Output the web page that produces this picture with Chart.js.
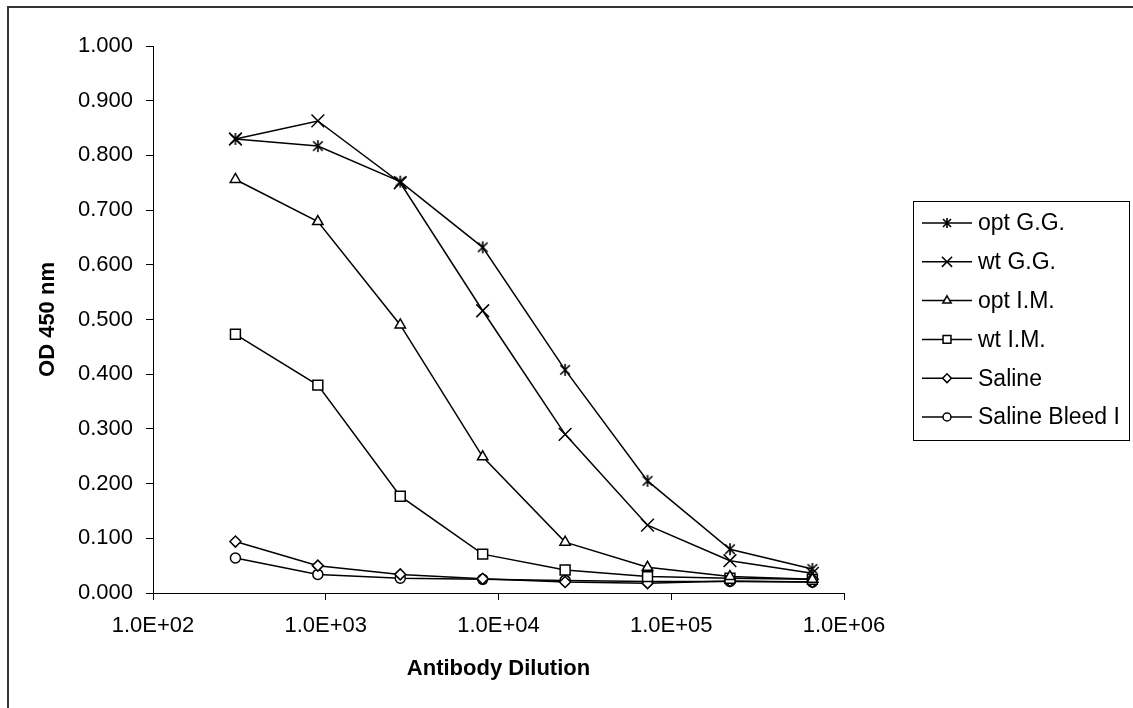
<!DOCTYPE html>
<html>
<head>
<meta charset="utf-8">
<script src="https://cdn.jsdelivr.net/npm/chart.js@4/dist/chart.umd.min.js"></script>
<style>
  html, body { margin: 0; padding: 0; background: #fff; }
  #wrap { width: 1133px; height: 708px; position: relative; }
</style>
</head>
<body>
<div id="wrap"><canvas id="elisa"></canvas></div>
<script>
const dilutions = [300, 900, 2700, 8100, 24300, 72900, 218700, 656100];
const seriesNames = ["opt G.G.", "wt G.G.", "opt I.M.", "wt I.M.", "Saline", "Saline Bleed I"];
const optGG = [0.830, 0.817, 0.752, 0.632, 0.408, 0.205, 0.080, 0.044];
const wtGG = [0.830, 0.863, 0.750, 0.516, 0.290, 0.124, 0.059, 0.036];
const optIM = [0.756, 0.679, 0.490, 0.249, 0.093, 0.047, 0.030, 0.025];
const wtIM = [0.473, 0.380, 0.177, 0.071, 0.042, 0.030, 0.027, 0.025];
const saline = [0.094, 0.050, 0.034, 0.026, 0.020, 0.018, 0.022, 0.020];
const salineBleed = [0.064, 0.034, 0.027, 0.025, 0.023, 0.021, 0.021, 0.020];
const xTicks = [1e2, 1e3, 1e4, 1e5, 1e6];

const FONT = "'Liberation Sans', Arial, sans-serif";

// excel style asterisk: vertical bar plus an X
function makeAsterisk(size) {
  const c = document.createElement("canvas");
  c.width = size; c.height = size;
  const g = c.getContext("2d");
  const m = size / 2, a = size / 2 - 1;
  g.strokeStyle = "#000";
  g.lineWidth = 1.6;
  g.beginPath();
  g.moveTo(m, m - a); g.lineTo(m, m + a);
  g.moveTo(m - a * 0.8, m - a * 0.8); g.lineTo(m + a * 0.8, m + a * 0.8);
  g.moveTo(m + a * 0.8, m - a * 0.8); g.lineTo(m - a * 0.8, m + a * 0.8);
  g.stroke();
  return c;
}

const asterisk = makeAsterisk(14);
const asteriskSmall = makeAsterisk(12);

const styles = [
  { pointStyle: asterisk, legendStyle: asteriskSmall, radius: 6 },
  { pointStyle: "crossRot", radius: 9 },
  { pointStyle: "triangle", radius: 6 },
  { pointStyle: "rect", radius: 7 },
  { pointStyle: "rectRot", radius: 5.5 },
  { pointStyle: "circle", radius: 5 }
];
const values = [optGG, wtGG, optIM, wtIM, saline, salineBleed];

function toPoints(arr) {
  return dilutions.map((d, i) => ({ x: d, y: arr[i] }));
}

function sciLabel(v) {
  const parts = v.toExponential(1).split("e");
  const sign = parts[1][0] === "-" ? "-" : "+";
  const exp = parts[1].replace(/[+-]/, "").padStart(2, "0");
  return parts[0] + "E" + sign + exp;
}

const datasets = seriesNames.map((name, i) => ({
  label: name,
  data: toPoints(values[i]),
  borderColor: "#000",
  borderWidth: 1.5,
  tension: 0,
  pointStyle: styles[i].pointStyle,
  pointRadius: styles[i].radius,
  pointBorderWidth: 1.5,
  pointBorderColor: "#000",
  pointBackgroundColor: "#fff"
}));

const frameAndLegend = {
  id: "frameAndLegend",
  afterDraw(chart) {
    const ctx = chart.ctx;
    ctx.save();
    // outer frame, only top and left visible
    ctx.strokeStyle = "#333";
    ctx.lineWidth = 2;
    ctx.beginPath();
    ctx.moveTo(8, 708);
    ctx.lineTo(8, 7);
    ctx.lineTo(1133, 7);
    ctx.stroke();

    // legend box
    const bx = 913, by = 201, bw = 216, bh = 239;
    ctx.strokeStyle = "#000";
    ctx.lineWidth = 1;
    ctx.strokeRect(bx + 0.5, by + 0.5, bw, bh);
    ctx.beginPath();
    ctx.rect(bx, by, bw, bh);
    ctx.clip();

    ctx.font = "23px " + FONT;
    ctx.textBaseline = "middle";
    ctx.textAlign = "left";
    chart.data.datasets.forEach((ds, i) => {
      const y = 223 + i * 38.8;
      ctx.strokeStyle = "#000";
      ctx.lineWidth = 1.5;
      ctx.beginPath();
      ctx.moveTo(922, y);
      ctx.lineTo(972, y);
      ctx.stroke();
      ctx.fillStyle = "#fff";
      const st = styles[i];
      Chart.helpers.drawPoint(ctx, {
        pointStyle: st.legendStyle || st.pointStyle,
        radius: st.radius * 0.8,
        rotation: 0,
        borderWidth: 1.5
      }, 947, y);
      ctx.fillStyle = "#000";
      ctx.fillText(ds.label, 978, y + 1);
    });
    ctx.restore();
  }
};

window.addEventListener("DOMContentLoaded", () => {
  const ctx = document.getElementById("elisa");
  new Chart(ctx, {
    type: "line",
    data: { datasets: datasets },
    options: {
      responsive: true,
      maintainAspectRatio: false,
      animation: false,
      events: [],
      layout: { padding: { top: 46, right: 289, left: 0, bottom: 0 } },
      plugins: {
        legend: { display: false },
        tooltip: { enabled: false }
      },
      scales: {
        x: {
          type: "logarithmic",
          min: 100,
          max: 1e6,
          afterBuildTicks: (scale) => {
            scale.ticks = xTicks.map(v => ({ value: v, major: true }));
          },
          afterFit: (scale) => { scale.height = 115; },
          border: { display: true, color: "#000", width: 1 },
          grid: { display: true, drawOnChartArea: false, drawTicks: true, tickLength: 7, color: "#000" },
          ticks: {
            color: "#000",
            padding: 13,
            maxRotation: 0,
            autoSkip: false,
            font: { family: FONT, size: 22 },
            callback: (v) => sciLabel(v)
          },
          title: {
            display: true,
            text: "Antibody Dilution",
            color: "#000",
            font: { family: FONT, size: 22, weight: "bold" },
            padding: { top: 0, bottom: 26 }
          }
        },
        y: {
          min: 0,
          max: 1,
          afterFit: (scale) => { scale.width = 153; },
          border: { display: true, color: "#000", width: 1 },
          grid: { display: true, drawOnChartArea: false, drawTicks: true, tickLength: 7, color: "#000" },
          ticks: {
            stepSize: 0.1,
            color: "#000",
            padding: 13,
            font: { family: FONT, size: 22 },
            callback: (v) => v.toFixed(3)
          },
          title: {
            display: true,
            text: "OD 450 nm",
            color: "#000",
            font: { family: FONT, size: 22, weight: "bold" },
            padding: { top: 35, bottom: 0 }
          }
        }
      }
    },
    plugins: [frameAndLegend]
  });
});
</script>
</body>
</html>
